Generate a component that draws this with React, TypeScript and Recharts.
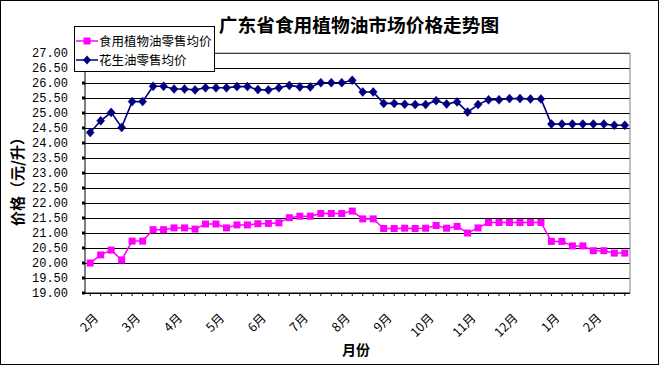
import { CartesianGrid, Legend, Line, LineChart, ReferenceLine, XAxis, YAxis } from "recharts";

const months = ["2月", "3月", "4月", "5月", "6月", "7月", "8月", "9月", "10月", "11月", "12月", "1月", "2月"];
const weekNames = ["第1周", "第2周", "第3周", "第4周"];
const weeks = months.flatMap((m) => weekNames.map((w) => m + w));

// 食用植物油零售均价 (元/升)
const vegOil = [
    20.00, 20.27, 20.43, 20.10, 20.73, 20.73, 21.11, 21.11, 21.17, 21.17,
    21.13, 21.30, 21.30, 21.17, 21.27, 21.27, 21.31, 21.32, 21.34, 21.51,
    21.56, 21.56, 21.65, 21.65, 21.65, 21.73, 21.47, 21.47, 21.15, 21.15,
    21.16, 21.15, 21.16, 21.25, 21.16, 21.22, 21.00, 21.17, 21.35, 21.35,
    21.35, 21.35, 21.35, 21.35, 20.72, 20.72, 20.57, 20.57, 20.41, 20.41,
    20.33, 20.33,
];

// 花生油零售均价 (元/升)
const peanutOil = [
    24.35, 24.74, 25.02, 24.52, 25.38, 25.38, 25.89, 25.89, 25.80, 25.80,
    25.77, 25.84, 25.84, 25.84, 25.88, 25.88, 25.78, 25.77, 25.84, 25.92,
    25.87, 25.87, 26.01, 26.01, 26.01, 26.09, 25.70, 25.70, 25.32, 25.32,
    25.29, 25.28, 25.28, 25.41, 25.30, 25.37, 25.03, 25.28, 25.44, 25.44,
    25.48, 25.48, 25.47, 25.47, 24.63, 24.63, 24.63, 24.63, 24.63, 24.63,
    24.59, 24.59,
];

const yTicks = [19, 19.5, 20, 20.5, 21, 21.5, 22, 22.5, 23, 23.5, 24, 24.5, 25, 25.5, 26, 26.5, 27];

const data = weeks.map((week, i) => ({ week, veg: vegOil[i], peanut: peanutOil[i] }));

const CJK = '"Noto Sans CJK SC", sans-serif';
const NAVY = "#000080";
const PINK = "#FF00FF";

const Diamond = (props: any) => {
    const { cx, cy } = props;
    if (cx == null || cy == null) return <g />;
    return (
        <polygon
            points={`${cx},${cy - 4.5} ${cx + 4},${cy} ${cx},${cy + 4.5} ${cx - 4},${cy}`}
            fill={NAVY}
            stroke={NAVY}
            strokeWidth={0.5}
        />
    );
};

const Square = (props: any) => {
    const { cx, cy } = props;
    if (cx == null || cy == null) return <g />;
    return <rect x={cx - 3.5} y={cy - 3.5} width={7} height={7} fill={PINK} />;
};

const XTick = (props: any) => {
    const { x, y, payload, index } = props;
    if (index % 4 !== 0) return <g />;
    const label = String(payload.value).split("第")[0];
    const px = x + 9;
    const py = y + 21;
    return (
        <text
            x={px}
            y={py}
            transform={`rotate(-45 ${px} ${py})`}
            textAnchor="end"
            fontSize={12.5}
            fontFamily={CJK}
            fill="#000"
        >
            {label}
        </text>
    );
};

const LegendBox = () => {
    const rows = [
        { name: "食用植物油零售均价", color: PINK, square: true },
        { name: "花生油零售均价", color: NAVY, square: false },
    ];
    return (
        <div
            style={{
                width: 141,
                height: 46,
                boxSizing: "border-box",
                border: "1px solid #000",
                background: "#fff",
                fontFamily: CJK,
                fontSize: 12.5,
                paddingTop: 4,
            }}
        >
            {rows.map((r) => (
                <div key={r.name} style={{ display: "flex", alignItems: "center", height: 19 }}>
                    <svg width={24} height={12}>
                        <line x1={1} y1={6} x2={23} y2={6} stroke={r.color} strokeWidth={1.5} />
                        {r.square ? (
                            <rect x={8.5} y={2.5} width={7} height={7} fill={r.color} />
                        ) : (
                            <polygon points="12,1.5 16,6 12,10.5 8,6" fill={r.color} />
                        )}
                    </svg>
                    <span style={{ whiteSpace: "nowrap", lineHeight: "19px" }}>{r.name}</span>
                </div>
            ))}
        </div>
    );
};

export default function App() {
    return (
        <div
            style={{
                position: "absolute",
                left: 0,
                top: 0,
                width: 659,
                height: 365,
                border: "1px solid #000",
                boxSizing: "border-box",
                background: "#fff",
            }}
        >
            <LineChart width={657} height={363} data={data} margin={{ top: 52, right: 24, bottom: 0, left: 0 }}>
                <CartesianGrid vertical={false} stroke="#000" shapeRendering="crispEdges" />
                <XAxis
                    dataKey="week"
                    interval={0}
                    height={71}
                    padding={{ left: 5.2, right: 5.2 }}
                    tick={<XTick />}
                    tickSize={3}
                    tickMargin={2}
                    axisLine={{ stroke: "#000" }}
                    tickLine={{ stroke: "#000" }}
                />
                <YAxis
                    domain={[19, 27]}
                    ticks={yTicks}
                    interval={0}
                    width={84}
                    tickSize={3}
                    tickMargin={14}
                    tickFormatter={(v: number) => v.toFixed(2)}
                    tick={{ fontSize: 12, fontFamily: '"Liberation Mono", monospace', fill: "#000" }}
                    axisLine={{ stroke: "#000" }}
                    tickLine={{ stroke: "#000", strokeWidth: 3 }}
                />
                <YAxis
                    yAxisId="right"
                    orientation="right"
                    domain={[19, 27]}
                    ticks={yTicks}
                    interval={0}
                    width={4}
                    tick={false}
                    tickSize={3}
                    axisLine={{ stroke: "#808080" }}
                    tickLine={{ stroke: "#000", strokeWidth: 3 }}
                />
                <ReferenceLine y={27} stroke="#808080" />
                <Legend
                    layout="vertical"
                    align="center"
                    verticalAlign="middle"
                    content={<LegendBox />}
                    wrapperStyle={{ left: 73, top: 25, width: 141, height: 46 }}
                />
                <Line
                    dataKey="veg"
                    name="食用植物油零售均价"
                    stroke={PINK}
                    strokeWidth={1.5}
                    dot={<Square />}
                    activeDot={false}
                    isAnimationActive={false}
                />
                <Line
                    dataKey="peanut"
                    name="花生油零售均价"
                    stroke={NAVY}
                    strokeWidth={1.6}
                    dot={<Diamond />}
                    activeDot={false}
                    isAnimationActive={false}
                />
            </LineChart>
            <div
                style={{
                    position: "absolute",
                    left: 358,
                    top: 22,
                    transform: "translate(-50%, -50%)",
                    fontFamily: CJK,
                    fontWeight: "bold",
                    fontSize: 18.7,
                    whiteSpace: "nowrap",
                }}
            >
                广东省食用植物油市场价格走势图
            </div>
            <div
                style={{
                    position: "absolute",
                    left: 15,
                    top: 177,
                    transform: "translate(-50%, -50%) rotate(-90deg)",
                    fontFamily: CJK,
                    fontWeight: "bold",
                    fontSize: 15,
                    whiteSpace: "nowrap",
                }}
            >
                价格（元/升）
            </div>
            <div
                style={{
                    position: "absolute",
                    left: 355,
                    top: 348,
                    transform: "translate(-50%, -50%)",
                    fontFamily: CJK,
                    fontWeight: "bold",
                    fontSize: 14,
                    whiteSpace: "nowrap",
                }}
            >
                月份
            </div>
        </div>
    );
}
